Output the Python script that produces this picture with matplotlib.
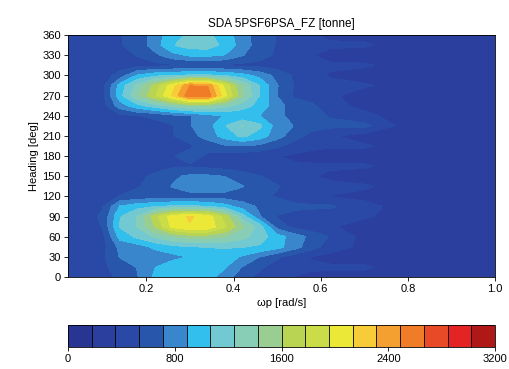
import numpy as np
import matplotlib
matplotlib.use("Agg")
import matplotlib.pyplot as plt

plt.rcParams['font.family'] = ['Liberation Sans', 'DejaVu Sans']

omega = [0.02, 0.06, 0.10, 0.14, 0.18, 0.22, 0.26, 0.30, 0.34, 0.38,
         0.42, 0.46, 0.50, 0.54, 0.58, 0.62, 0.70, 0.80, 0.90, 1.00]
heading = list(range(0, 361, 15))

# FZ values [tonne], one row per heading
fz = [
    [450, 450, 480, 560, 700, 920, 1000, 1000, 960, 800, 600, 480, 400, 350, 320, 300, 300, 250, 250, 250],   # 0
    [450, 450, 500, 600, 720, 880, 980, 1000, 990, 900, 700, 560, 450, 400, 380, 380, 380, 260, 250, 250],    # 15
    [450, 450, 500, 720, 780, 800, 830, 900, 990, 980, 860, 700, 560, 430, 340, 290, 250, 240, 240, 240],     # 30
    [450, 460, 470, 760, 800, 920, 1000, 1050, 1070, 1080, 1070, 1040, 950, 780, 600, 450, 300, 250, 250, 250],  # 45
    [450, 460, 480, 950, 1100, 1260, 1400, 1480, 1480, 1420, 1300, 1150, 960, 800, 650, 520, 300, 250, 250, 250],  # 60
    [450, 470, 540, 1080, 1250, 1600, 2000, 2120, 2080, 1800, 1450, 1150, 620, 470, 420, 380, 250, 240, 240, 240],  # 75
    [450, 470, 560, 1050, 1250, 1700, 2050, 2150, 2060, 1700, 1150, 720, 520, 470, 440, 420, 380, 260, 250, 250],  # 90
    [450, 460, 520, 900, 1000, 1050, 1090, 1100, 1060, 960, 800, 680, 600, 570, 560, 560, 420, 260, 250, 250],  # 105
    [430, 440, 470, 540, 580, 600, 620, 620, 630, 620, 600, 560, 520, 460, 400, 350, 300, 250, 250, 250],     # 120
    [420, 430, 440, 470, 520, 600, 720, 820, 850, 820, 720, 600, 540, 490, 430, 400, 380, 260, 250, 250],     # 135
    [420, 420, 430, 460, 500, 560, 680, 740, 740, 700, 620, 540, 470, 420, 370, 320, 250, 240, 240, 240],     # 150
    [420, 420, 430, 440, 460, 480, 500, 510, 480, 450, 420, 400, 390, 380, 380, 380, 380, 260, 250, 250],     # 165
    [410, 410, 420, 430, 440, 460, 520, 600, 500, 440, 420, 400, 360, 320, 290, 260, 250, 240, 240, 240],     # 180
    [410, 410, 420, 430, 440, 450, 470, 500, 600, 680, 700, 660, 560, 460, 400, 380, 380, 260, 250, 250],     # 195
    [420, 420, 430, 440, 450, 470, 520, 640, 780, 960, 1100, 980, 780, 600, 470, 380, 260, 250, 250, 250],   # 210
    [420, 430, 440, 450, 470, 480, 520, 700, 800, 1050, 1250, 1100, 800, 700, 600, 570, 580, 260, 250, 250],  # 225
    [420, 430, 450, 480, 530, 560, 640, 700, 800, 900, 920, 880, 760, 640, 580, 520, 400, 250, 250, 250],     # 240
    [430, 440, 460, 800, 1000, 1150, 1300, 1420, 1400, 1300, 1150, 1000, 780, 620, 560, 420, 300, 250, 250, 250],  # 255
    [440, 450, 470, 1000, 1400, 1750, 2150, 2620, 2600, 2000, 1450, 1050, 700, 500, 450, 400, 250, 240, 240, 240],  # 270
    [440, 450, 460, 960, 1300, 1650, 2050, 2480, 2470, 1900, 1400, 1050, 720, 520, 440, 400, 380, 260, 250, 250],  # 285
    [430, 440, 450, 600, 900, 1000, 1050, 1080, 1080, 1050, 950, 820, 650, 500, 420, 340, 250, 240, 240, 240],  # 300
    [420, 430, 440, 450, 470, 480, 490, 500, 500, 490, 480, 470, 440, 400, 390, 380, 380, 260, 250, 250],     # 315
    [420, 430, 440, 480, 540, 660, 820, 910, 920, 880, 720, 600, 500, 420, 360, 300, 250, 240, 240, 240],     # 330
    [420, 430, 450, 520, 600, 800, 1050, 1150, 1150, 1020, 800, 620, 520, 440, 400, 380, 380, 260, 250, 250],  # 345
    [420, 430, 450, 520, 600, 780, 1000, 1100, 1100, 980, 780, 620, 520, 440, 370, 320, 300, 250, 250, 250],   # 360
]

level_values = np.linspace(0, 3200, 19)
band_colors = ['#283593', '#2a3f9e', '#2a48a6', '#2856aa', '#3a86cc', '#33bfee',
               '#72c9d2', '#88cdb6', '#9acd92', '#b8d452', '#cadc48', '#ece838',
               '#f8cc38', '#f4a030', '#f07c28', '#e84a28', '#e42424', '#b01818']
cbar_ticks = [0, 800, 1600, 2400, 3200]

fig = plt.figure(figsize=(5.10, 3.69), dpi=100)
ax = fig.add_axes([0.133, 0.249, 0.838, 0.656])
cs = ax.contourf(np.array(omega), np.array(heading), np.array(fz),
                 levels=level_values, colors=band_colors)
cs.set_edgecolor('face')
cs.set_linewidth(0.4)
ax.set_xlim(0.02, 1.0)
ax.set_ylim(0, 360)
ax.set_xticks([0.2, 0.4, 0.6, 0.8, 1.0])
ax.set_xticklabels(['0.2', '0.4', '0.6', '0.8', '1.0'])
ax.set_yticks(range(0, 361, 30))
ax.tick_params(labelsize=8, length=3, width=0.6, pad=2)
ax.set_xlabel('ωp [rad/s]', fontsize=8, labelpad=3)
ax.set_ylabel('Heading [deg]', fontsize=8, labelpad=2)
ax.set_title('SDA 5PSF6PSA_FZ [tonne]', fontsize=8.5, pad=6)
for s in ax.spines.values():
    s.set_linewidth(0.6)

cax = fig.add_axes([0.133, 0.06, 0.838, 0.06])
cb = fig.colorbar(cs, cax=cax, orientation='horizontal', drawedges=True, ticks=cbar_ticks)
cb.ax.tick_params(labelsize=8, length=3, width=0.6, pad=2)
cb.dividers.set_linewidth(0.6)
cb.outline.set_linewidth(0.6)

fig.savefig('out.png', dpi=100)
